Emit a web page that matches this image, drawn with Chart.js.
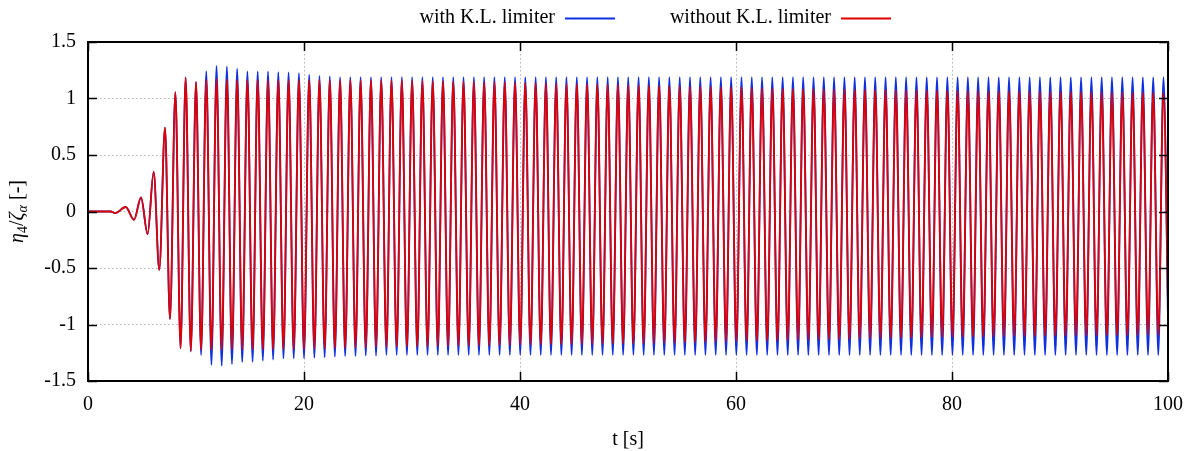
<!DOCTYPE html>
<html>
<head>
<meta charset="utf-8">
<script src="https://cdn.jsdelivr.net/npm/chart.js@4.4.1/dist/chart.umd.min.js"></script>
<style>
html, body { margin: 0; padding: 0; background: #fff; }
#wrap { width: 1198px; height: 451px; }
</style>
</head>
<body>
<div id="wrap"><canvas id="roll-chart"></canvas></div>
<script>
// axis ticks
var xTicks = [0, 20, 40, 60, 80, 100];
var yTicks = [-1.5, -1, -0.5, 0, 0.5, 1, 1.5];

// start-up transient (same for both runs), extrema
var startTimes  = [0, 2.1, 2.5, 3.49, 4.26, 4.91, 5.52, 6.08, 6.6, 7.13, 7.59];
var startValues = [0, 0, -0.015, 0.04, -0.073, 0.124, -0.2, 0.35, -0.516, 0.743, -0.952];

// times of the crests and troughs afterwards [s]
var peakTimes = [
	8.09, 9.04, 10.00, 10.95, 11.90, 12.86, 13.81, 14.76, 15.71, 16.67,
	17.62, 18.57, 19.53, 20.48, 21.43, 22.39, 23.34, 24.29, 25.24, 26.20,
	27.15, 28.10, 29.06, 30.01, 30.96, 31.92, 32.87, 33.82, 34.77, 35.73,
	36.68, 37.63, 38.59, 39.54, 40.49, 41.45, 42.40, 43.35, 44.30, 45.26,
	46.21, 47.16, 48.12, 49.07, 50.02, 50.98, 51.93, 52.88, 53.83, 54.79,
	55.74, 56.69, 57.65, 58.60, 59.55, 60.51, 61.46, 62.41, 63.36, 64.32,
	65.27, 66.22, 67.18, 68.13, 69.08, 70.04, 70.99, 71.94, 72.89, 73.85,
	74.80, 75.75, 76.71, 77.66, 78.61, 79.57, 80.52, 81.47, 82.42, 83.38,
	84.33, 85.28, 86.24, 87.19, 88.14, 89.10, 90.05, 91.00, 91.95, 92.91,
	93.86, 94.81, 95.77, 96.72, 97.67, 98.63, 99.58
];
var troughTimes = [
	8.57, 9.52, 10.47, 11.43, 12.38, 13.33, 14.28, 15.24, 16.19, 17.14,
	18.10, 19.05, 20.00, 20.96, 21.91, 22.86, 23.81, 24.77, 25.72, 26.67,
	27.63, 28.58, 29.53, 30.49, 31.44, 32.39, 33.34, 34.30, 35.25, 36.20,
	37.16, 38.11, 39.06, 40.02, 40.97, 41.92, 42.87, 43.83, 44.78, 45.73,
	46.69, 47.64, 48.59, 49.55, 50.50, 51.45, 52.40, 53.36, 54.31, 55.26,
	56.22, 57.17, 58.12, 59.08, 60.03, 60.98, 61.93, 62.89, 63.84, 64.79,
	65.75, 66.70, 67.65, 68.61, 69.56, 70.51, 71.46, 72.42, 73.37, 74.32,
	75.28, 76.23, 77.18, 78.14, 79.09, 80.04, 80.99, 81.95, 82.90, 83.85,
	84.81, 85.76, 86.71, 87.67, 88.62, 89.57, 90.52, 91.48, 92.43, 93.38,
	94.34, 95.29, 96.24, 97.20, 98.15, 99.10, 100.05
];

// with K.L. limiter
var withPeaks = [
	1.057, 1.186, 1.148, 1.242, 1.289, 1.283, 1.265, 1.24, 1.24, 1.24,
	1.233, 1.23, 1.224, 1.21, 1.2, 1.195, 1.19, 1.19, 1.19, 1.19,
	1.19, 1.19, 1.19, 1.19, 1.19, 1.19, 1.19, 1.19, 1.19, 1.19,
	1.19, 1.19, 1.19, 1.19, 1.19, 1.19, 1.19, 1.19, 1.19, 1.19,
	1.19, 1.19, 1.19, 1.19, 1.19, 1.19, 1.19, 1.19, 1.19, 1.19,
	1.19, 1.19, 1.19, 1.19, 1.19, 1.19, 1.19, 1.19, 1.19, 1.19,
	1.19, 1.188, 1.188, 1.188, 1.188, 1.188, 1.188, 1.188, 1.188, 1.188,
	1.188, 1.188, 1.188, 1.188, 1.188, 1.188, 1.188, 1.188, 1.188, 1.188,
	1.188, 1.188, 1.188, 1.188, 1.188, 1.188, 1.188, 1.188, 1.188, 1.188,
	1.188, 1.188, 1.188, 1.188, 1.188, 1.188, 1.188
];
var withTroughs = [
	-1.21, -1.24, -1.27, -1.357, -1.365, -1.35, -1.333, -1.33, -1.32, -1.31,
	-1.30, -1.30, -1.30, -1.295, -1.29, -1.285, -1.28, -1.28, -1.275, -1.275,
	-1.27, -1.27, -1.27, -1.27, -1.27, -1.27, -1.27, -1.27, -1.27, -1.27,
	-1.27, -1.27, -1.27, -1.27, -1.27, -1.27, -1.27, -1.27, -1.27, -1.27,
	-1.27, -1.27, -1.27, -1.27, -1.27, -1.27, -1.27, -1.27, -1.27, -1.27,
	-1.27, -1.27, -1.27, -1.27, -1.27, -1.27, -1.27, -1.27, -1.27, -1.27,
	-1.27, -1.27, -1.27, -1.27, -1.27, -1.27, -1.27, -1.27, -1.27, -1.27,
	-1.27, -1.27, -1.27, -1.27, -1.27, -1.27, -1.27, -1.27, -1.27, -1.27,
	-1.27, -1.27, -1.27, -1.27, -1.27, -1.27, -1.27, -1.27, -1.27, -1.27,
	-1.27, -1.27, -1.27, -1.27, -1.27, -1.27, -1.27
];

// without K.L. limiter
var withoutPeaks = [
	1.057, 1.186, 1.148, 1.166, 1.175, 1.17, 1.165, 1.165, 1.165, 1.165,
	1.165, 1.165, 1.165, 1.165, 1.165, 1.165, 1.165, 1.165, 1.165, 1.165,
	1.165, 1.163, 1.162, 1.16, 1.158, 1.156, 1.155, 1.153, 1.151, 1.15,
	1.148, 1.146, 1.144, 1.142, 1.14, 1.138, 1.136, 1.134, 1.132, 1.13,
	1.128, 1.126, 1.124, 1.122, 1.12, 1.118, 1.116, 1.114, 1.112, 1.11,
	1.108, 1.106, 1.104, 1.102, 1.10, 1.098, 1.096, 1.094, 1.092, 1.09,
	1.088, 1.086, 1.084, 1.082, 1.081, 1.08, 1.079, 1.078, 1.077, 1.076,
	1.075, 1.074, 1.073, 1.072, 1.071, 1.07, 1.069, 1.068, 1.067, 1.066,
	1.065, 1.064, 1.063, 1.062, 1.061, 1.06, 1.06, 1.059, 1.058, 1.057,
	1.056, 1.055, 1.054, 1.053, 1.052, 1.051, 1.05
];
var withoutTroughs = [
	-1.21, -1.235, -1.225, -1.225, -1.225, -1.22, -1.22, -1.22, -1.22, -1.22,
	-1.22, -1.22, -1.22, -1.215, -1.215, -1.21, -1.21, -1.205, -1.205, -1.2,
	-1.2, -1.198, -1.197, -1.195, -1.194, -1.192, -1.19, -1.189, -1.187, -1.186,
	-1.185, -1.183, -1.182, -1.18, -1.179, -1.178, -1.177, -1.176, -1.175, -1.174,
	-1.173, -1.172, -1.171, -1.17, -1.17, -1.168, -1.166, -1.164, -1.162, -1.16,
	-1.158, -1.156, -1.154, -1.152, -1.15, -1.148, -1.146, -1.144, -1.142, -1.14,
	-1.138, -1.136, -1.134, -1.132, -1.131, -1.13, -1.128, -1.126, -1.124, -1.122,
	-1.12, -1.118, -1.116, -1.114, -1.112, -1.11, -1.109, -1.108, -1.107, -1.106,
	-1.105, -1.104, -1.103, -1.102, -1.101, -1.10, -1.10, -1.099, -1.098, -1.097,
	-1.096, -1.095, -1.094, -1.093, -1.092, -1.091, -1.09
];

var seriesNames = ['with K.L. limiter', 'without K.L. limiter'];
var seriesColors = ['#1030e0', '#e00000'];

var FONT = 'Liberation Serif';

function buildSeries(peaks, troughs) {
	var pts = startTimes.map(function (t, i) { return {x: t, y: startValues[i]}; });
	peakTimes.forEach(function (t, k) {
		pts.push({x: t, y: peaks[k]});
		pts.push({x: troughTimes[k], y: troughs[k]});
	});
	return pts;
}

// border, inward ticks, key and axis titles the gnuplot way
var framePlugin = {
	id: 'frame',
	afterDraw: function (chart) {
		var ctx = chart.ctx, a = chart.chartArea;
		var sx = chart.scales.x, sy = chart.scales.y;
		ctx.save();

		ctx.strokeStyle = '#000';
		ctx.lineWidth = 1.5;
		ctx.beginPath();
		xTicks.forEach(function (v) {
			var px = Math.round(sx.getPixelForValue(v)) + 0.5;
			ctx.moveTo(px, a.bottom); ctx.lineTo(px, a.bottom - 9);
			ctx.moveTo(px, a.top); ctx.lineTo(px, a.top + 9);
		});
		yTicks.forEach(function (v) {
			var py = Math.round(sy.getPixelForValue(v)) + 0.5;
			ctx.moveTo(a.left, py); ctx.lineTo(a.left + 9, py);
			ctx.moveTo(a.right, py); ctx.lineTo(a.right - 9, py);
		});
		ctx.stroke();
		ctx.lineWidth = 2;
		ctx.strokeRect(a.left, a.top, a.right - a.left, a.bottom - a.top);

		// key
		ctx.font = '20px "' + FONT + '"';
		ctx.fillStyle = '#000';
		ctx.textAlign = 'right';
		ctx.textBaseline = 'middle';
		var keyX = [555, 831];
		seriesNames.forEach(function (name, i) {
			ctx.fillText(name, keyX[i], 18);
			ctx.strokeStyle = seriesColors[i];
			ctx.lineWidth = 1.8;
			ctx.beginPath();
			ctx.moveTo(keyX[i] + 10, 18.5);
			ctx.lineTo(keyX[i] + 60, 18.5);
			ctx.stroke();
		});

		// x title
		ctx.textAlign = 'center';
		ctx.fillText('t [s]', (a.left + a.right) / 2, 440);

		// y title with subscripts
		var parts = [
			{t: 'η', sub: false, it: true}, {t: '4', sub: true},
			{t: '/', sub: false}, {t: 'ζ', sub: false, it: true}, {t: 'α', sub: true, it: true},
			{t: ' [-]', sub: false}
		];
		function fontFor(p) {
			return (p.it ? 'italic ' : '') + (p.sub ? '14px "' : '20px "') + FONT + '"';
		}
		var total = 0;
		parts.forEach(function (p) { ctx.font = fontFor(p); p.w = ctx.measureText(p.t).width; total += p.w; });
		ctx.translate(18, (a.top + a.bottom) / 2);
		ctx.rotate(-Math.PI / 2);
		ctx.textAlign = 'left';
		var cx = -total / 2;
		parts.forEach(function (p) {
			ctx.font = fontFor(p);
			ctx.fillText(p.t, cx, p.sub ? 5 : 0);
			cx += p.w;
		});
		ctx.restore();
	}
};

new Chart('roll-chart', {
	type: 'line',
	data: {
		datasets: [
			{
				label: seriesNames[0],
				data: buildSeries(withPeaks, withTroughs),
				borderColor: seriesColors[0],
				borderWidth: 1.8,
				order: 1
			},
			{
				label: seriesNames[1],
				data: buildSeries(withoutPeaks, withoutTroughs),
				borderColor: seriesColors[1],
				borderWidth: 1.8,
				order: 0
			}
		]
	},
	options: {
		responsive: true,
		maintainAspectRatio: false,
		animation: false,
		events: [],
		layout: { padding: { left: 0, right: 30, top: 42, bottom: 0 } },
		elements: {
			point: { radius: 0 },
			line: { tension: 0.4, cubicInterpolationMode: 'monotone', fill: false }
		},
		plugins: {
			legend: { display: false },
			tooltip: { enabled: false }
		},
		scales: {
			x: {
				type: 'linear',
				min: 0,
				max: 100,
				afterBuildTicks: function (s) { s.ticks = xTicks.map(function (v) { return {value: v}; }); },
				afterFit: function (s) { s.height = 70; },
				ticks: {
					color: '#000',
					padding: 12,
					maxRotation: 0,
					font: { family: FONT, size: 20 },
					callback: function (v) { return String(v); }
				},
				grid: { color: '#b4b4b4', lineWidth: 1, drawTicks: false },
				border: { display: false, dash: [1.5, 2.5] }
			},
			y: {
				min: -1.5,
				max: 1.5,
				afterBuildTicks: function (s) { s.ticks = yTicks.map(function (v) { return {value: v}; }); },
				afterFit: function (s) { s.width = 88; },
				ticks: {
					color: '#000',
					padding: 12,
					font: { family: FONT, size: 20 },
					callback: function (v) { return String(v); }
				},
				grid: { color: '#b4b4b4', lineWidth: 1, drawTicks: false },
				border: { display: false, dash: [1.5, 2.5] }
			}
		}
	},
	plugins: [framePlugin]
});
</script>
</body>
</html>
